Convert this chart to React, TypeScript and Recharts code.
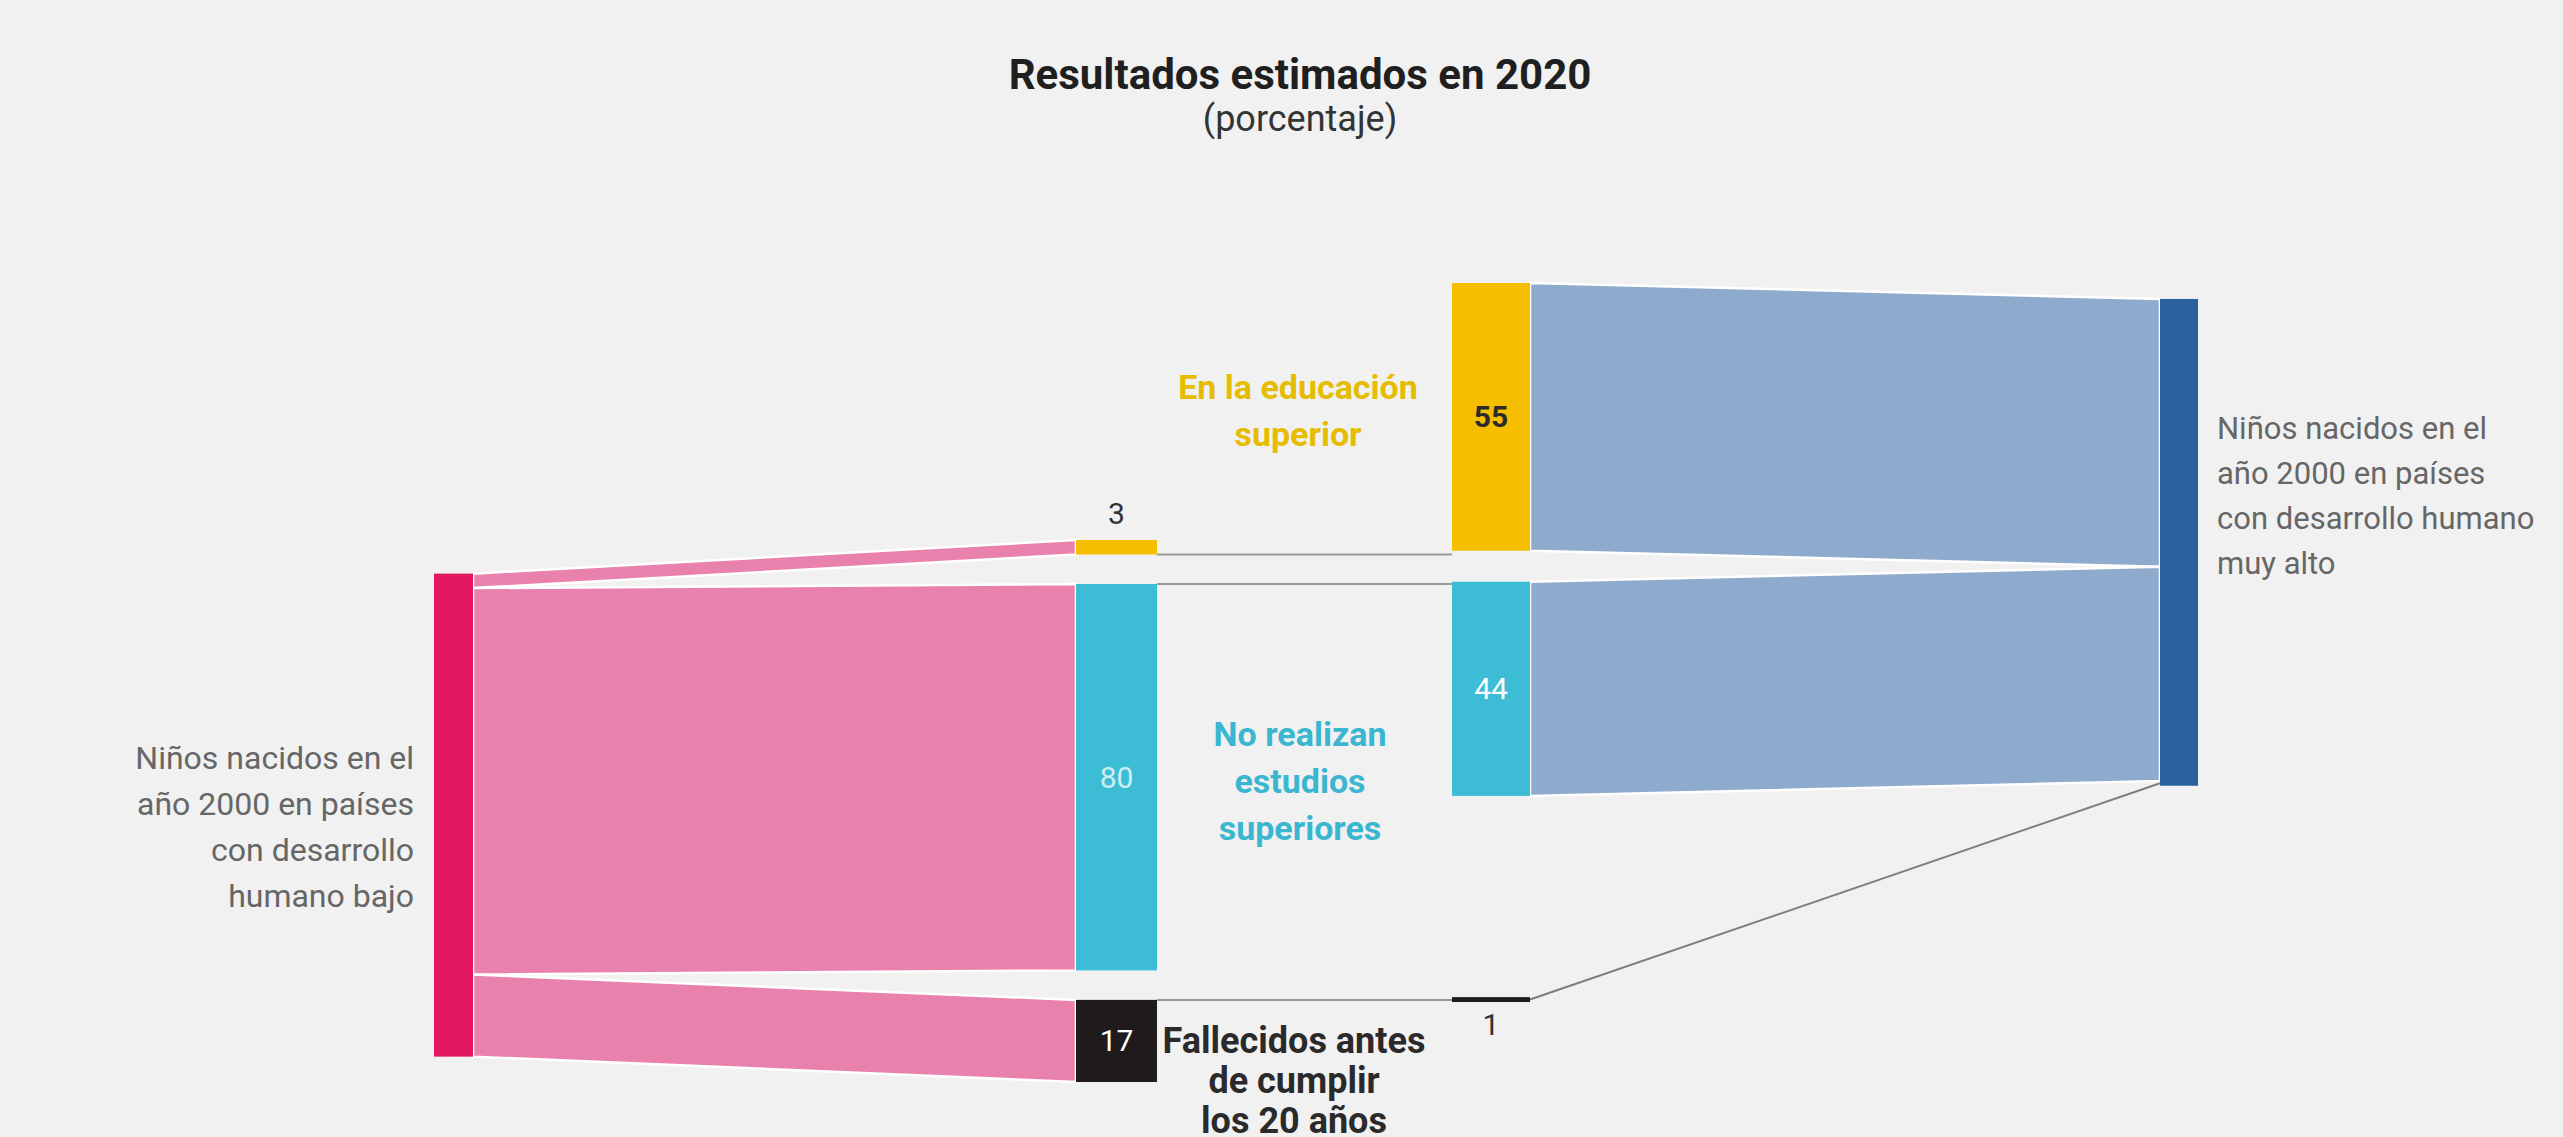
import React from "react";
import { Sankey } from "recharts";

// categories
const OUTCOMES = [
  "En la educación superior",
  "No realizan estudios superiores",
  "Fallecidos antes de cumplir los 20 años",
];
const LOW_HDI = "Niños nacidos en el año 2000 en países con desarrollo humano bajo";
const VERY_HIGH_HDI = "Niños nacidos en el año 2000 en países con desarrollo humano muy alto";

// values (porcentaje)
const LOW_HDI_SHARES = [3, 80, 17];
const VERY_HIGH_HDI_SHARES = [55, 44, 1];

// text
const TITLE = "Resultados estimados en 2020";
const SUBTITLE = "(porcentaje)";
const LOW_LABEL_LINES = ["Niños nacidos en el", "año 2000 en países", "con desarrollo", "humano bajo"];
const HIGH_LABEL_LINES = ["Niños nacidos en el", "año 2000 en países", "con desarrollo humano", "muy alto"];
const OUTCOME_LABEL_LINES = [
  ["En la educación", "superior"],
  ["No realizan", "estudios", "superiores"],
  ["Fallecidos antes", "de cumplir", "los 20 años"],
];

// styles
const FONT = 'Roboto, "Liberation Sans", sans-serif';
const OUTCOME_COLORS = ["#F5BF00", "#3DBCD6", "#1F1B1C"];
const OUTCOME_TEXT = ["#E6BC00", "#3AB6D0", "#2A2A2A"];
const LOW_NODE = "#E2175F";
const LOW_LINK = "#E882AC";
const HIGH_NODE = "#2A62A0";
const HIGH_LINK = "#8EAACD";
const BG = "#F1F1F1";

// layout
const GAP_W = 295; // space between the two middle columns
const SPACER = "__spacer";
const SPACER_SINK = "__spacer_sink";
const SPACER_VALUE = 28.6; // keeps the 1% block level with the 17% block

const lowData = {
  nodes: [{ name: LOW_HDI }, ...OUTCOMES.map((name) => ({ name }))],
  links: LOW_HDI_SHARES.map((value, i) => ({ source: 0, target: i + 1, value })),
};

const highData = {
  nodes: [
    { name: OUTCOMES[0] },
    { name: OUTCOMES[1] },
    { name: SPACER },
    { name: OUTCOMES[2] },
    { name: VERY_HIGH_HDI },
    { name: SPACER_SINK },
  ],
  links: [
    ...VERY_HIGH_HDI_SHARES.map((value, i) => ({ source: i < 2 ? i : 3, target: 4, value })),
    { source: 2, target: 5, value: SPACER_VALUE },
  ],
};

const valueText = (x: number, y: number, v: number, fill: string, bold = false) => (
  <text
    x={x}
    y={y}
    dy="0.35em"
    textAnchor="middle"
    fill={fill}
    fontFamily={FONT}
    fontSize={30}
    fontWeight={bold ? 700 : 400}
  >
    {v}
  </text>
);

const LowNode = (props: any) => {
  const { x, y, width, height, payload } = props;
  if (payload.name === LOW_HDI) {
    return <rect x={x + width - 39} y={y} width={39} height={height} fill={LOW_NODE} />;
  }
  const i = OUTCOMES.indexOf(payload.name);
  const lineY = i === 0 ? y + height : y;
  const small = height < 30;
  return (
    <g>
      <line x1={x + width} x2={x + width + GAP_W} y1={lineY} y2={lineY} stroke="#9a9a9a" strokeWidth={2} />
      <rect x={x} y={y} width={width} height={height} fill={OUTCOME_COLORS[i]} />
      {small
        ? valueText(x + width / 2, y - 27, payload.value, "#333")
        : valueText(x + width / 2, y + height / 2, payload.value, i === 1 ? "rgba(255,255,255,0.75)" : "#fff")}
    </g>
  );
};

const HighNode = (props: any) => {
  const { x, y, width, height, payload } = props;
  if (payload.name === SPACER || payload.name === SPACER_SINK) return <g />;
  if (payload.name === VERY_HIGH_HDI) {
    return <rect x={x} y={y} width={38} height={height} fill={HIGH_NODE} />;
  }
  const i = OUTCOMES.indexOf(payload.name);
  const small = height < 30;
  return (
    <g>
      <rect x={x} y={y} width={width} height={height} fill={OUTCOME_COLORS[i]} />
      {small
        ? valueText(x + width / 2, y + height + 22, payload.value, "#333")
        : valueText(x + width / 2, y + height / 2, payload.value, i === 0 ? "#2b2b2b" : "#fff", i === 0)}
    </g>
  );
};

const makeLink = (fill: string) => (props: any) => {
  const { sourceX, targetX, sourceY, targetY, linkWidth, payload } = props;
  if (payload.target.name === SPACER_SINK) return <g />;
  if (linkWidth < 8) {
    return <line x1={sourceX} y1={sourceY} x2={targetX} y2={targetY} stroke="#7d7d7d" strokeWidth={2} />;
  }
  const h = linkWidth / 2;
  const pts = `${sourceX},${sourceY - h} ${targetX},${targetY - h} ${targetX},${targetY + h} ${sourceX},${sourceY + h}`;
  return <polygon points={pts} fill={fill} stroke="#ffffff" strokeWidth={2.5} />;
};

const LowLink = makeLink(LOW_LINK);
const HighLink = makeLink(HIGH_LINK);

const lines = (
  rows: string[],
  x: number,
  y0: number,
  step: number,
  anchor: "start" | "middle" | "end",
  fill: string,
  size: number,
  weight: number
) =>
  rows.map((r, i) => (
    <text
      key={i}
      x={x}
      y={y0 + i * step}
      dy="0.35em"
      textAnchor={anchor}
      fill={fill}
      fontFamily={FONT}
      fontSize={size}
      fontWeight={weight}
    >
      {r}
    </text>
  ));

export default function App() {
  return (
    <div style={{ position: "absolute", left: 0, top: 0, width: 2563, height: 1137, background: BG, overflow: "hidden" }}>
      <div style={{ position: "absolute", left: 0, top: 0 }}>
        <Sankey
          width={1452}
          height={1137}
          data={lowData}
          nodeWidth={81}
          nodePadding={29.5}
          sort={false}
          iterations={32}
          margin={{ left: 392, right: GAP_W, top: 540, bottom: 55 }}
          node={LowNode}
          link={LowLink}
        />
      </div>
      <div style={{ position: "absolute", left: 1452, top: 0 }}>
        <Sankey
          width={1111}
          height={1137}
          data={highData}
          nodeWidth={78}
          nodePadding={31}
          sort={false}
          iterations={32}
          margin={{ left: 0, right: 325, top: 283, bottom: 135 }}
          node={HighNode}
          link={HighLink}
        />
      </div>
      <svg
        width={2563}
        height={1137}
        style={{ position: "absolute", left: 0, top: 0, pointerEvents: "none" }}
      >
        <text x={1300} y={74} dy="0.35em" textAnchor="middle" fontFamily={FONT} fontSize={42} fontWeight={700} fill="#1f1f1f">
          {TITLE}
        </text>
        <text x={1300} y={118} dy="0.35em" textAnchor="middle" fontFamily={FONT} fontSize={36} fill="#333">
          {SUBTITLE}
        </text>
        {lines(LOW_LABEL_LINES, 414, 758, 46, "end", "#666", 32, 400)}
        {lines(HIGH_LABEL_LINES, 2217, 428, 45, "start", "#666", 31, 400)}
        {lines(OUTCOME_LABEL_LINES[0], 1298, 387, 47, "middle", OUTCOME_TEXT[0], 34, 700)}
        {lines(OUTCOME_LABEL_LINES[1], 1300, 734, 47, "middle", OUTCOME_TEXT[1], 34, 700)}
        {lines(OUTCOME_LABEL_LINES[2], 1294, 1040, 40, "middle", OUTCOME_TEXT[2], 36, 700)}
      </svg>
    </div>
  );
}
